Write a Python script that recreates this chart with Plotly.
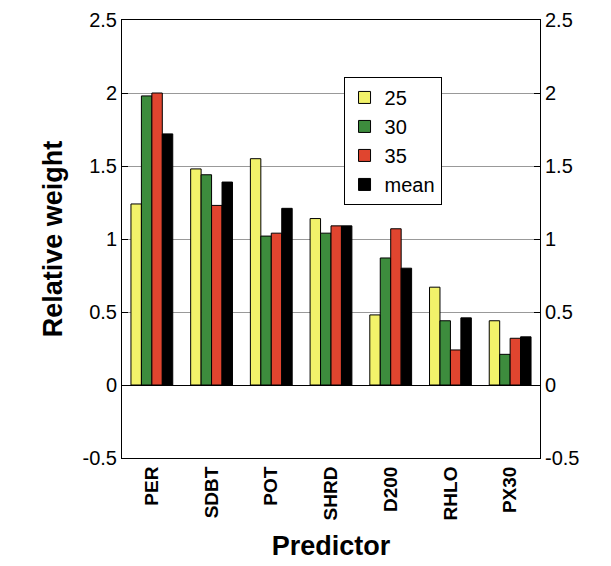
import plotly.graph_objects as go

predictors = ["PER", "SDBT", "POT", "SHRD", "D200", "RHLO", "PX30"]
v25 = [1.24, 1.48, 1.55, 1.14, 0.48, 0.67, 0.44]
v30 = [1.98, 1.44, 1.02, 1.04, 0.87, 0.44, 0.21]
v35 = [2.00, 1.23, 1.04, 1.09, 1.07, 0.24, 0.32]
vmean = [1.72, 1.39, 1.21, 1.09, 0.80, 0.46, 0.33]

series = [("25", v25, "#f2f26a"), ("30", v30, "#3d8c3d"),
          ("35", v35, "#e0452f"), ("mean", vmean, "#000000")]

fig = go.Figure()
for name, vals, col in series:
    fig.add_trace(go.Bar(x=predictors, y=vals, name=name, marker_color=col,
                         marker_line_color="black", marker_line_width=1))
# invisible trace to carry right axis
fig.add_trace(go.Scatter(x=predictors, y=[0]*7, yaxis="y2", mode="markers",
                         marker_opacity=0, showlegend=False, hoverinfo="skip"))

ticks = [-0.5, 0, 0.5, 1, 1.5, 2, 2.5]
tlabels = ["-0.5", "0", "0.5", "1", "1.5", "2", "2.5"]
yax = dict(range=[-0.5, 2.5], tickvals=ticks, ticktext=tlabels,
           ticks="inside", ticklen=6, tickcolor="black", automargin=False,
           tickfont=dict(size=20, family="Liberation Sans", color="black"),
           showline=True, linecolor="black", linewidth=1)
fig.update_layout(
    width=611, height=566, plot_bgcolor="white", paper_bgcolor="white",
    margin=dict(l=114, r=79, t=12, b=116),
    barmode="group", bargap=0.3, bargroupgap=0,
    font=dict(family="Liberation Sans", color="black"),
    xaxis=dict(showline=True, linecolor="black", mirror=True, tickangle=-90,
               automargin=False,
               tickfont=dict(size=19, family="Liberation Sans"),
               ticktext=["<b>%s</b>" % p for p in predictors], tickvals=predictors,
               title=dict(text="<b>Predictor</b>", font=dict(size=27), standoff=16)),
    yaxis=dict(**yax, showgrid=True, gridcolor="#999999", zeroline=True,
               zerolinecolor="black", zerolinewidth=1,
               title=dict(text="<b>Relative weight</b>", font=dict(size=27), standoff=12)),
    yaxis2=dict(**yax, overlaying="y", side="right", showgrid=False, zeroline=False),
    legend=dict(x=0.53, y=0.87, xanchor="left", yanchor="top",
                bordercolor="black", borderwidth=1, bgcolor="white",
                font=dict(size=20), itemwidth=30),
)
fig.write_html("out.html")
